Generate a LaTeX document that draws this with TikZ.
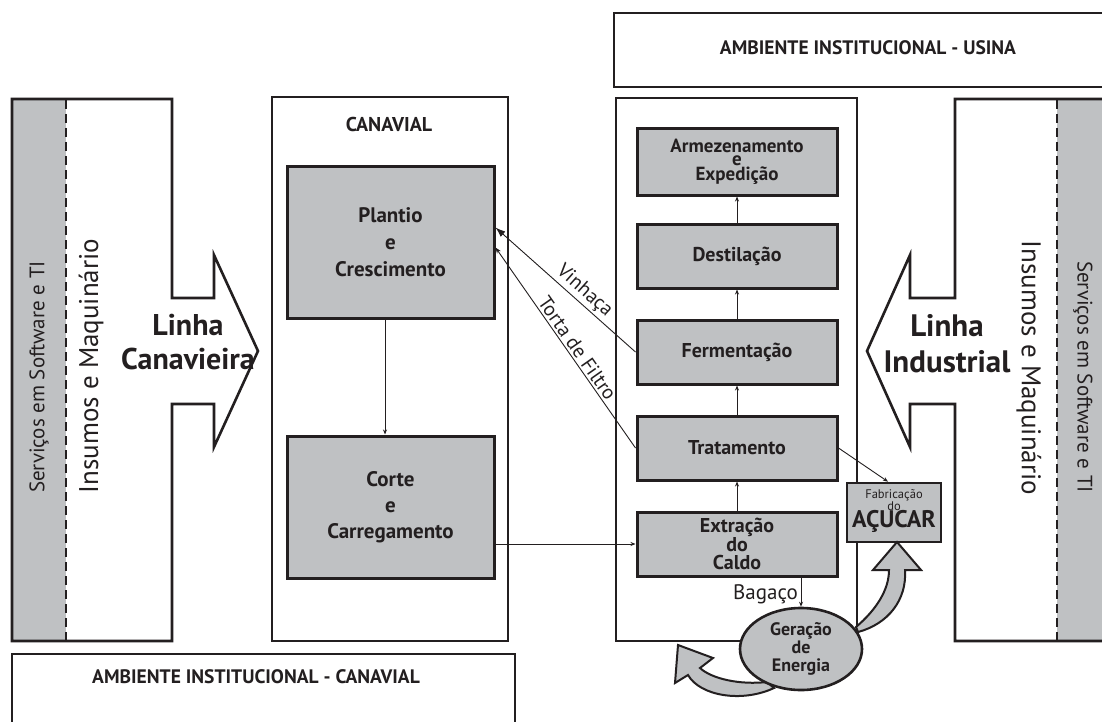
\documentclass[tikz,border=0pt]{standalone}
\usepackage{fontspec}
\setmainfont{PT Sans}
\usetikzlibrary{arrows.meta,shapes.geometric}
\definecolor{boxgray}{HTML}{BFC1C3}
\definecolor{ink}{HTML}{231F20}
\newcommand{\fs}[2]{\fontsize{#1}{#2}\selectfont}
\begin{document}
\begin{tikzpicture}[x=1pt,y=-1pt,
  frame/.style={draw=ink, line width=2.6pt, line join=miter},
  procbox/.style={draw=ink, line width=3pt, fill=boxgray, inner sep=0pt,
    align=center, text=ink, minimum width=200pt},
  flow/.style={draw=ink, line width=0.9pt, -{Stealth[length=5pt,width=4pt]}},
  swoosh/.style={fill=boxgray, draw=ink, line width=2pt, line join=miter},
  dashline/.style={draw=ink, line width=2.6pt, dash pattern=on 9pt off 5pt},
  lbl/.style={text=ink, inner sep=0pt}]

\useasboundingbox (0,0) rectangle (1102,722);
\fill[white] (0,0) rectangle (1102,722);

% ---------- left supply line ----------
\fill[boxgray] (12,99) rectangle (66,641);
\draw[frame] (12,99) -- (172,99) -- (172,298) -- (214,298) -- (214,255)
  -- (258,351) -- (214,447) -- (214,404) -- (172,404) -- (172,641)
  -- (12,641) -- cycle;
\draw[dashline] (66,100) -- (66,640);
\node[lbl, rotate=90, font=\fs{21}{21}] (servL) at (39,377) {Serviços em Software e TI};
\node[lbl, rotate=90, font=\fs{27}{27}] (insL) at (91,366) {Insumos e Maquinário};
\node[lbl, align=center, font=\bfseries\fs{30}{34}] (linhaC) at (188,342) {Linha\\Canavieira};

% ---------- right supply line ----------
\fill[boxgray] (1057,99) rectangle (1106,641);
\draw[frame] (1106,99) -- (955,99) -- (955,298) -- (910,298) -- (910,255)
  -- (867,351) -- (910,447) -- (910,404) -- (955,404) -- (955,641)
  -- (1106,641);
\draw[dashline] (1057,100) -- (1057,640);
\node[lbl, rotate=-90, font=\fs{27}{27}] (insR) at (1029,368) {Insumos e Maquinário};
\node[lbl, rotate=-90, font=\fs{21}{21}] (servR) at (1083,377) {Serviços em Software e TI};
\node[lbl, align=center, font=\bfseries\fs{31}{36}] (linhaI) at (947,344) {Linha\\Industrial};

% ---------- institutional environments ----------
\draw[frame] (614,13) rectangle (1110,87);
\node[lbl, font=\bfseries\fs{19.5}{19.5}] (ambU) at (868,48) {AMBIENTE INSTITUCIONAL - USINA};
\draw[frame] (12,654) rectangle (515,740);
\node[lbl, font=\bfseries\fs{19.5}{19.5}] (ambC) at (256,677) {AMBIENTE INSTITUCIONAL - CANAVIAL};

% ---------- cane field ----------
\draw[frame] (272,97) rectangle (508,641);
\node[lbl, font=\bfseries\fs{20}{20}] (canavial) at (389,125) {CANAVIAL};
\node[procbox, minimum width=207pt, minimum height=151pt, font=\bfseries\fs{21}{27}]
  (plantio) at (390.5,242.5) {Plantio\\e\\Crescimento};
\node[procbox, minimum width=207pt, minimum height=142pt, font=\bfseries\fs{21}{26}]
  (corte) at (390.5,507) {Corte\\e\\Carregamento};

% ---------- mill ----------
\draw[frame] (616,98) rectangle (857,641);
\node[procbox, minimum height=66pt, font=\bfseries\fs{19}{13}] (armaz) at (737,162)
  {Armezenamento\\e\\Expedição};
\node[procbox, minimum height=64pt, font=\bfseries\fs{20}{20}] (dest) at (737,256) {Destilação};
\node[procbox, minimum height=64pt, font=\bfseries\fs{20}{20}] (ferm) at (737,352) {Fermentação};
\node[procbox, minimum height=64pt, font=\bfseries\fs{20}{20}] (trat) at (737,448) {Tratamento};
\node[procbox, minimum height=64pt, font=\bfseries\fs{20}{18}] (extr) at (737,544)
  {Extração\\do\\Caldo};
\node[procbox, minimum width=94pt, minimum height=59pt, line width=2.6pt] (fab) at (894,512.5) {};
\node[lbl, font=\fs{12.5}{12.5}] (fab1) at (894,495) {Fabricação};
\node[lbl, font=\fs{12.5}{12.5}] (fab2) at (894,506) {do};
\node[lbl, font=\bfseries\fs{24}{24}] (fab3) at (894,521) {AÇUCAR};

% ---------- energy loops ----------
\filldraw[swoosh] (856,627) .. controls (876,610) and (889,590) .. (889,570)
  -- (873,570) -- (897,542) -- (921,570) -- (905,570)
  .. controls (907,600) and (888,624) .. (858,632) -- cycle;
\filldraw[swoosh] (767,682) .. controls (740,685) and (712,679) .. (700,668)
  -- (713,658) -- (678,645) -- (675,683) -- (688,675)
  .. controls (700,696) and (742,703) .. (774,688) -- cycle;
\node[ellipse, draw=ink, line width=2.6pt, fill=boxgray, minimum width=122pt,
  minimum height=82pt, inner sep=0pt, align=center, text=ink,
  font=\bfseries\fs{18}{18}] (ger) at (801,649) {Geração\\de\\Energia};

% ---------- flows ----------
\coordinate (pcx) at (385,0);
\draw[flow] (plantio.south -| pcx) -- (corte.north -| pcx);
\draw[flow] (corte.east |- extr.west) -- (extr.west);
\draw[flow] (extr) -- (trat);
\draw[flow] (trat) -- (ferm);
\draw[flow] (ferm) -- (dest);
\draw[flow] (dest) -- (armaz);
\draw[flow] (trat.east) -- ([xshift=-6pt]fab.north);
\draw[flow] (extr.south -| ger.north) -- (ger.north);
\node[lbl, anchor=east, font=\fs{21}{21}] (bagaco) at (798,594) {Bagaço};
\draw[draw=ink, line width=0.9pt, -{Latex[length=10pt,width=7pt]}]
  (ferm.west) -- node[lbl, sloped, above=2pt, pos=0.42, font=\fs{20}{20}] (vinh) {Vinhaça}
  ([yshift=15pt]plantio.east);
\draw[draw=ink, line width=0.9pt, -{Stealth[length=6pt,width=4.5pt]}]
  (trat.west) -- node[lbl, sloped, above=2pt, pos=0.47, font=\fs{20}{20}] (torta) {Torta de Filtro}
  ([yshift=-5pt]plantio.east);
\end{tikzpicture}
\end{document}
